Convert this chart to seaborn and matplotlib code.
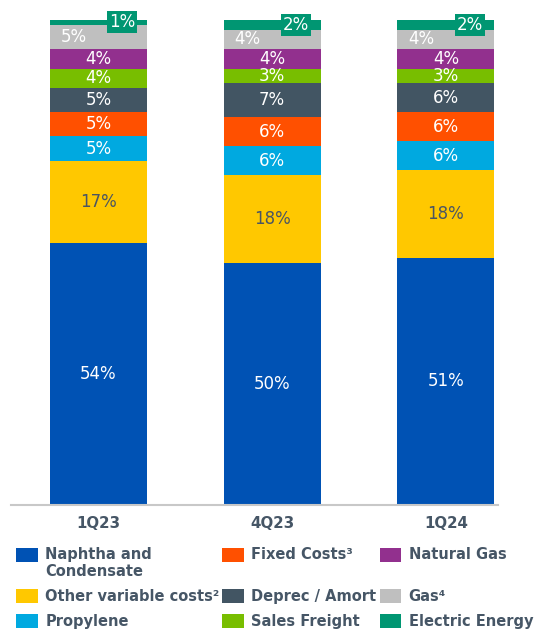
import numpy as np
import pandas as pd
import matplotlib
matplotlib.use("Agg")
import matplotlib.pyplot as plt
from matplotlib.patches import Patch
import seaborn as sns

# ── Data ───────────────────────────────────────────────────────────────────────
periods = ['1Q23', '4Q23', '1Q24']

components = ['Naphtha and\nCondensate', 'Other variable costs²', 'Propylene',
              'Fixed Costs³\n ', 'Deprec / Amort', 'Sales Freight',
              'Natural Gas\n ', 'Gas⁴', 'Electric Energy']

naphtha     = [54, 50, 51]
other_var   = [17, 18, 18]
propylene   = [5, 6, 6]
fixed_costs = [5, 6, 6]
deprec      = [5, 7, 6]
freight     = [4, 3, 3]
natural_gas = [4, 4, 4]
gas         = [5, 4, 4]
electric    = [1, 2, 2]

colors = ['#0052b4', '#ffc800', '#00a9e0', '#ff5000', '#425563',
          '#78be00', '#92308e', '#bfbfbf', '#009672']

series = [naphtha, other_var, propylene, fixed_costs, deprec,
          freight, natural_gas, gas, electric]

text_col = '#465666'

# ── Plot ───────────────────────────────────────────────────────────────────────
sns.set_style('white')
plt.rcParams['font.family'] = ['DejaVu Sans']

fig = plt.figure(figsize=(5.59, 6.32), dpi=100)
ax = fig.add_axes([11 / 559, (632 - 505) / 632, (498 - 11) / 559, 485 / 632])

bar_w = 0.557
bottom = np.zeros(len(periods))
for i, (name, vals) in enumerate(zip(components, series)):
    df = pd.DataFrame({'period': periods, 'value': vals})
    sns.barplot(data=df, x='period', y='value', color=colors[i], saturation=1,
                width=bar_w, bottom=bottom, linewidth=0, ax=ax)
    for j, v in enumerate(vals):
        yc = bottom[j] + v / 2
        if i == 8:
            ax.text(j + 0.138, yc, f'{v}%', ha='center', va='center',
                    color='white', fontsize=12, clip_on=False,
                    bbox=dict(boxstyle='square,pad=0.12', fc=colors[i], ec='none'))
        elif i == 7:
            ax.text(j - bar_w / 2 + 0.063, yc, f'{v}%', ha='left', va='center',
                    color='white', fontsize=12)
        else:
            ax.text(j, yc, f'{v}%', ha='center', va='center',
                    color=('#4a5563' if i == 1 else 'white'), fontsize=12)
    bottom = bottom + np.array(vals)

ax.set_xlim(-0.503, 2.30)
ax.set_ylim(0, 100)
ax.set_xlabel('')
ax.set_ylabel('')
ax.set_yticks([])
for s in ['top', 'right', 'left']:
    ax.spines[s].set_visible(False)
ax.spines['bottom'].set_color('#c8c8c8')
ax.spines['bottom'].set_linewidth(1.5)
ax.tick_params(axis='x', length=0, pad=8)
for lbl in ax.get_xticklabels():
    lbl.set_fontweight('bold')
    lbl.set_fontsize(10.8)
    lbl.set_color(text_col)

handles = [Patch(facecolor=c, edgecolor='none') for c in colors]
leg = fig.legend(handles, components, ncol=3, loc='upper left',
                 bbox_to_anchor=(16 / 559, 1 - 547 / 632), frameon=False,
                 borderpad=0, borderaxespad=0, handlelength=1.5, handleheight=1.1,
                 handletextpad=0.5, columnspacing=0.2, labelspacing=0.68,
                 prop={'weight': 'bold', 'size': 10.5})
for t in leg.get_texts():
    t.set_color(text_col)
# first-row squares sit level with the first text line
for k in (0, 3, 6):
    h = leg.legend_handles[k]
    h.set_y(h.get_y() + 6.3)

fig.savefig('out.png', dpi=100)
